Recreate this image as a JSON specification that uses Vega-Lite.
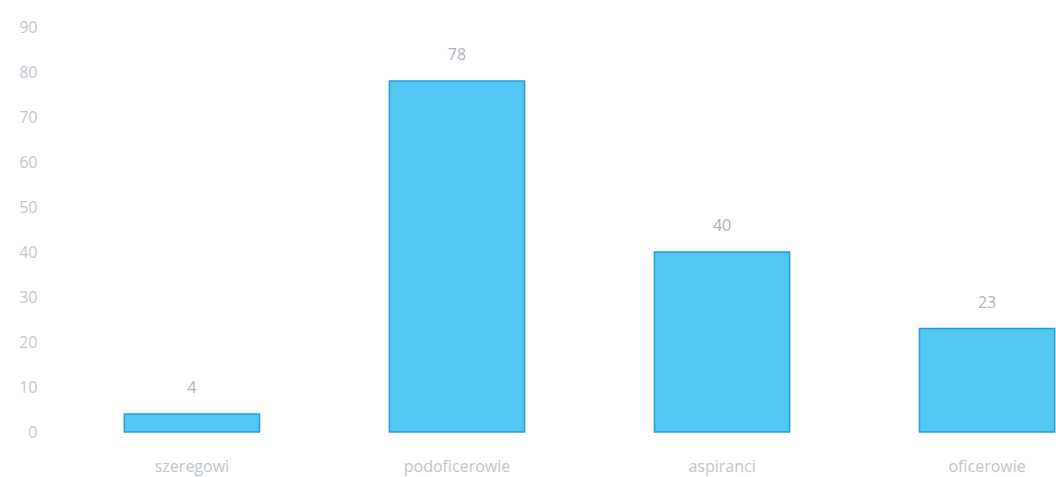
{
  "$schema": "https://vega.github.io/schema/vega-lite/v6.json",
  "autosize": "none",
  "padding": {"left": 123, "top": 27, "right": 0, "bottom": 45},
  "width": 933,
  "height": 405,
  "background": "white",
  "config": {"view": {"stroke": null}, "font": "Open Sans"},
  "data": {"values": [
    {"kategoria": "szeregowi", "liczba": 4},
    {"kategoria": "podoficerowie", "liczba": 78},
    {"kategoria": "aspiranci", "liczba": 40},
    {"kategoria": "oficerowie", "liczba": 23}
  ]},
  "encoding": {
    "x": {"field": "kategoria", "type": "nominal", "sort": null,
      "scale": {"paddingInner": 0.49, "paddingOuter": 0.005},
      "axis": {"title": null, "labelAngle": 0, "domain": false, "ticks": false, "labelPadding": 26,
        "labelFontSize": 16, "labelColor": "#bec6ce", "labelFont": "Open Sans"}},
    "y": {"field": "liczba", "type": "quantitative",
      "scale": {"domain": [0, 90], "nice": false},
      "axis": {"title": null, "values": [0,10,20,30,40,50,60,70,80,90], "grid": false, "domain": false, "ticks": false,
        "offset": 86, "labelPadding": 0, "labelFontSize": 16, "labelColor": "#c0c8d0", "labelFont": "Open Sans"}}
  },
  "layer": [
    {"mark": {"type": "bar", "fill": "#54c6f2", "stroke": "#1f9fde", "strokeWidth": 1.5}},
    {"mark": {"type": "text", "dy": -18, "baseline": "bottom", "fontSize": 16, "color": "#aab3bd", "font": "Open Sans"},
      "encoding": {"text": {"field": "liczba", "type": "quantitative"}}}
  ]
}
